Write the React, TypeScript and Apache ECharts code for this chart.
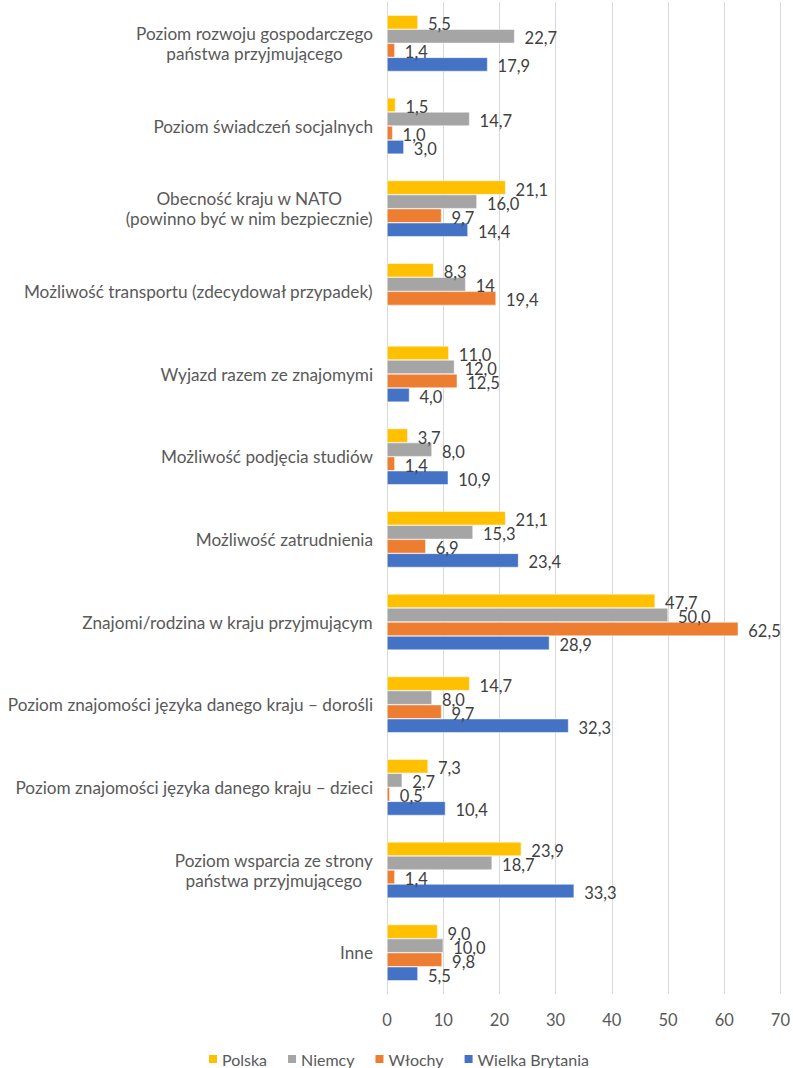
import React, { useEffect, useRef } from "react";
import * as echarts from "echarts";

const categories = [
  "Poziom rozwoju gospodarczego\npaństwa przyjmującego",
  "Poziom świadczeń socjalnych",
  "Obecność kraju w NATO\n(powinno być w nim bezpiecznie)",
  "Możliwość transportu (zdecydował przypadek)",
  "Wyjazd razem ze znajomymi",
  "Możliwość podjęcia studiów",
  "Możliwość zatrudnienia",
  "Znajomi/rodzina w kraju przyjmującym",
  "Poziom znajomości języka danego kraju – dorośli",
  "Poziom znajomości języka danego kraju – dzieci",
  "Poziom wsparcia ze strony\npaństwa przyjmującego",
  "Inne",
];

const polska = [5.5, 1.5, 21.1, 8.3, 11.0, 3.7, 21.1, 47.7, 14.7, 7.3, 23.9, 9.0];
const niemcy = [22.7, 14.7, 16.0, 14, 12.0, 8.0, 15.3, 50.0, 8.0, 2.7, 18.7, 10.0];
const wlochy = [1.4, 1.0, 9.7, 19.4, 12.5, 1.4, 6.9, 62.5, 9.7, 0.5, 1.4, 9.8];
const wielkaBrytania = [17.9, 3.0, 14.4, null, 4.0, 10.9, 23.4, 28.9, 32.3, 10.4, 33.3, 5.5];

// labels shown without a decimal in the source
const niemcyLabelOverrides: Record<number, string> = { 3: "14" };

const xTicks = { min: 0, max: 70, interval: 10 };

const seriesDefs = [
  { name: "Polska", data: polska, color: "#FFC000", overrides: {} as Record<number, string> },
  { name: "Niemcy", data: niemcy, color: "#A5A5A5", overrides: niemcyLabelOverrides },
  { name: "Włochy", data: wlochy, color: "#ED7D31", overrides: {} as Record<number, string> },
  { name: "Wielka Brytania", data: wielkaBrytania, color: "#4472C4", overrides: {} as Record<number, string> },
];

const FONT = "Lato, 'Liberation Sans', sans-serif";

export default function App() {
  const ref = useRef<HTMLDivElement>(null);
  useEffect(() => {
    if (!ref.current) return;
    const chart = echarts.init(ref.current, null, { renderer: "svg" });
    chart.setOption({
      animation: false,
      textStyle: { fontFamily: FONT },
      grid: { left: 387, right: 10, top: 2, bottom: 74, containLabel: false },
      legend: {
        left: 202,
        top: 1046,
        icon: "rect",
        itemWidth: 10,
        itemHeight: 10,
        itemGap: 19,
        textStyle: { fontSize: 16, color: "#595959", fontFamily: FONT, padding: [0, 0, 0, -1] },
        data: seriesDefs.map((s) => s.name),
      },
      xAxis: {
        type: "value",
        min: xTicks.min,
        max: xTicks.max,
        interval: xTicks.interval,
        axisLine: { show: false },
        axisTick: { show: false },
        splitLine: { show: true, lineStyle: { color: "#D9D9D9", width: 1 } },
        axisLabel: { fontSize: 16.5, color: "#595959", margin: 17, fontFamily: FONT },
      },
      yAxis: {
        type: "category",
        inverse: true,
        data: categories,
        axisLine: { show: true, lineStyle: { color: "#D9D9D9", width: 1 } },
        axisTick: { show: false },
        axisLabel: {
          fontSize: 17.2,
          color: "#595959",
          margin: 14,
          fontFamily: FONT,
          formatter: (v: string) => v.split("\n").map((l) => "{c|" + l + "}").join("\n"),
          rich: {
            c: { align: "center", fontSize: 17.2, color: "#595959", fontFamily: FONT, lineHeight: 20 },
          },
        },
      },
      series: seriesDefs.map((s) => ({
        name: s.name,
        type: "bar",
        data: s.data,
        barGap: "0%",
        barCategoryGap: "32%",
        itemStyle: { color: s.color, borderColor: "#FFFFFF", borderWidth: 0.5 },
        label: {
          show: true,
          position: "right",
          distance: 10,
          fontSize: 16.5,
          color: "#404040",
          fontFamily: FONT,
          offset: [0, 2],
          formatter: (p: any) =>
            s.overrides[p.dataIndex] !== undefined
              ? s.overrides[p.dataIndex]
              : Number(p.value).toFixed(1).replace(".", ","),
        },
      })),
    });
    return () => chart.dispose();
  }, []);
  return (
    <div
      ref={ref}
      style={{ position: "absolute", left: 0, top: 0, width: 793, height: 1068, background: "#fff" }}
    />
  );
}
